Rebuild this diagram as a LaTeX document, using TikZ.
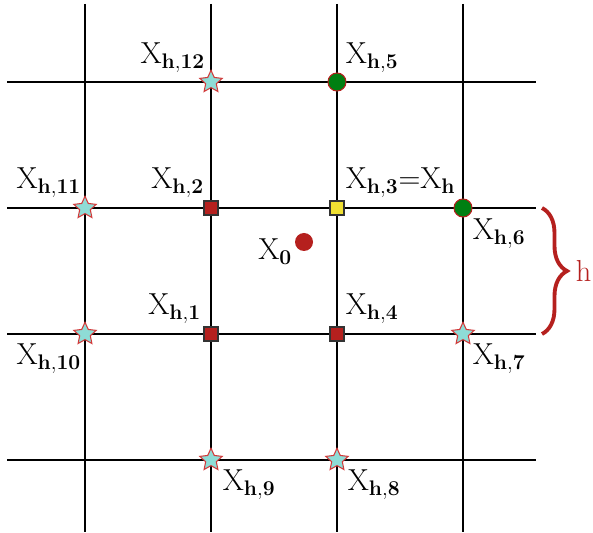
\documentclass[tikz,border=0pt]{standalone}
\usetikzlibrary{shapes.geometric, decorations.pathreplacing}
\definecolor{cred}{HTML}{B5201E}
\definecolor{cgreen}{HTML}{007F12}
\definecolor{ccyan}{HTML}{8EDCD6}
\definecolor{cyellow}{HTML}{F0E032}
\definecolor{cstar}{HTML}{D23A3A}
\tikzset{
  every picture/.style={line width=1pt},
  gridline/.style={draw=black, line width=1.1pt},
  starpt/.style={star, star points=5, star point ratio=2.1, minimum size=0.47cm, inner sep=0pt, fill=ccyan, draw=cstar, line width=0.6pt},
  dotpt/.style={circle, minimum size=0.36cm, inner sep=0pt, fill=cgreen, draw=cred, line width=0.6pt},
  sqpt/.style={rectangle, minimum size=0.28cm, inner sep=0pt, fill=#1, draw=black!80, line width=0.6pt},
  sqpt/.default=cred,
  lbl/.style={font=\LARGE, inner sep=0pt},
  hbrace/.style={decorate, decoration={brace, amplitude=0.5cm}, draw=cred, line width=2.2pt},
}
\begin{document}
\begin{tikzpicture}
  \useasboundingbox (0,0) rectangle (11.86,-10.66);
  \foreach \c in {0,...,3} {
    \draw[gridline] ({1.70+2.52*\c},-0.08) -- ({1.70+2.52*\c},-10.64);
    \draw[gridline] (0.14,{-1.64-2.52*\c}) -- (10.72,{-1.64-2.52*\c});
  }
  % grid points
  \node[starpt] (p12) at (4.22,-1.64) {};
  \node[dotpt] (p5) at (6.74,-1.64) {};
  \node[starpt] (p11) at (1.70,-4.16) {};
  \node[sqpt] (p2) at (4.22,-4.16) {};
  \node[sqpt=cyellow] (p3) at (6.74,-4.16) {};
  \node[dotpt] (p6) at (9.26,-4.16) {};
  \node[starpt] (p10) at (1.70,-6.68) {};
  \node[sqpt] (p1) at (4.22,-6.68) {};
  \node[sqpt] (p4) at (6.74,-6.68) {};
  \node[starpt] (p7) at (9.26,-6.68) {};
  \node[starpt] (p9) at (4.22,-9.20) {};
  \node[starpt] (p8) at (6.74,-9.20) {};
  \node[circle, fill=cred, minimum size=0.36cm, inner sep=0pt] (x0) at (6.08,-4.84) {};
  % labels
  \node[lbl, anchor=base east] (l12) at ([xshift=-0.1cm, yshift=0.36cm]p12.center) {X$_{\mathbf{h,12}}$};
  \node[lbl, anchor=base west] (l5) at ([xshift=0.16cm, yshift=0.36cm]p5.center) {X$_{\mathbf{h,5}}$};
  \node[lbl, anchor=base east] (l11) at ([xshift=-0.06cm, yshift=0.38cm]p11.center) {X$_{\mathbf{h,11}}$};
  \node[lbl, anchor=base east] (l2) at ([xshift=-0.12cm, yshift=0.38cm]p2.center) {X$_{\mathbf{h,2}}$};
  \node[lbl, anchor=base west] (l3) at ([xshift=0.16cm, yshift=0.38cm]p3.center) {X$_{\mathbf{h,3}}$=X$_{\mathbf{h}}$};
  \node[lbl, anchor=base west] (l6) at ([xshift=0.18cm, yshift=-0.64cm]p6.center) {X$_{\mathbf{h,6}}$};
  \node[lbl, anchor=base east] (l0) at ([xshift=-0.22cm, yshift=-0.36cm]x0.center) {X$_{\mathbf{0}}$};
  \node[lbl, anchor=base east] (l1) at ([xshift=-0.18cm, yshift=0.38cm]p1.center) {X$_{\mathbf{h,1}}$};
  \node[lbl, anchor=base west] (l4) at ([xshift=0.16cm, yshift=0.38cm]p4.center) {X$_{\mathbf{h,4}}$};
  \node[lbl, anchor=base east] (l10) at ([xshift=-0.06cm, yshift=-0.62cm]p10.center) {X$_{\mathbf{h,10}}$};
  \node[lbl, anchor=base west] (l7) at ([xshift=0.18cm, yshift=-0.62cm]p7.center) {X$_{\mathbf{h,7}}$};
  \node[lbl, anchor=base west] (l9) at ([xshift=0.22cm, yshift=-0.62cm]p9.center) {X$_{\mathbf{h,9}}$};
  \node[lbl, anchor=base west] (l8) at ([xshift=0.2cm, yshift=-0.62cm]p8.center) {X$_{\mathbf{h,8}}$};
  % spacing brace
  \coordinate (bt) at (10.84,-4.16);
  \coordinate (bb) at (10.84,-6.68);
  \draw[hbrace] (bt) -- node[lbl, text=cred, right=0.64cm] (hl) {h} (bb);
\end{tikzpicture}
\end{document}
